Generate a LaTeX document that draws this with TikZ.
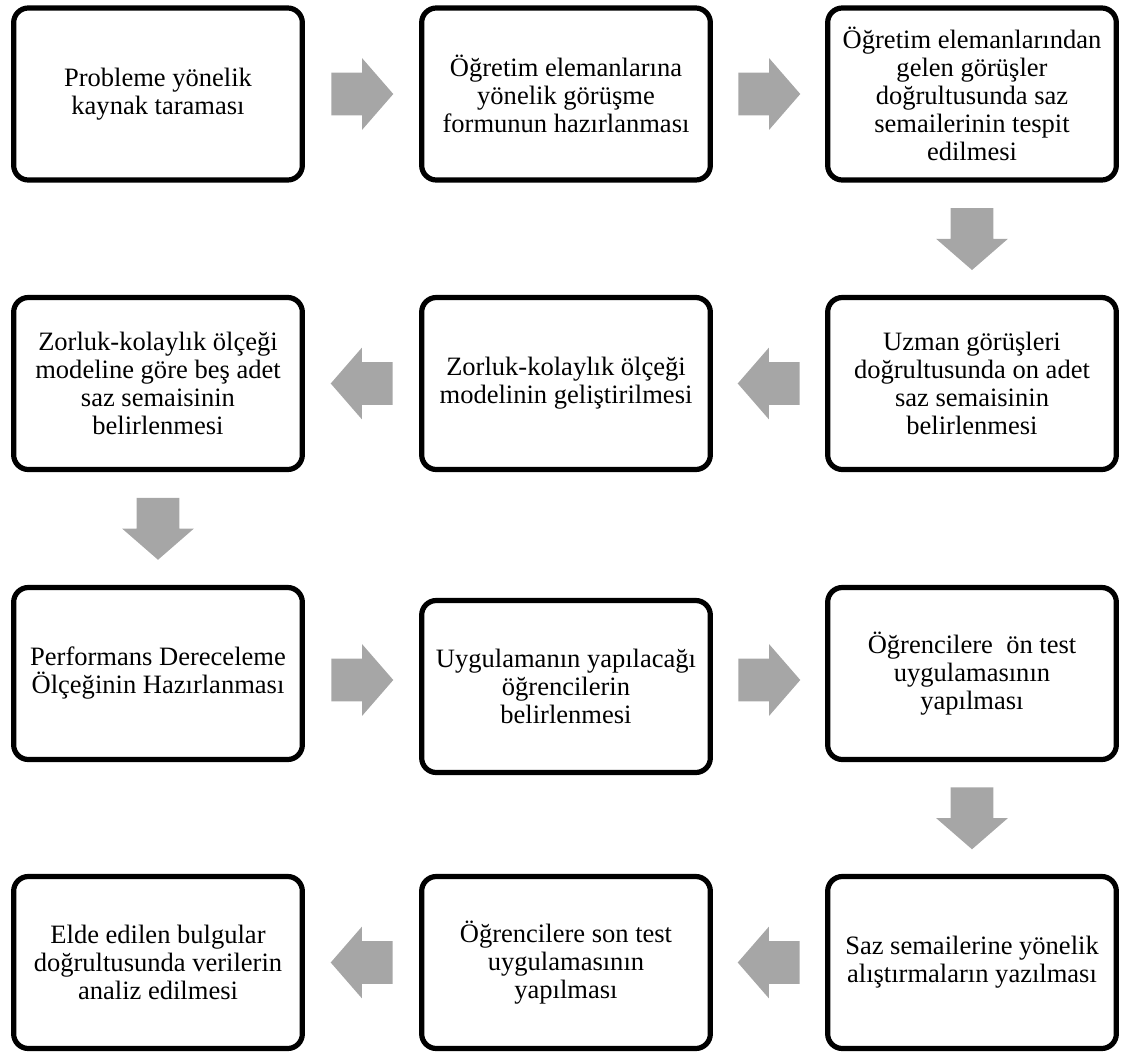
\documentclass[tikz,border=0pt]{standalone}
\usepackage{fontspec}
\setmainfont{Liberation Serif}
\usetikzlibrary{shapes.arrows,calc}
\definecolor{stepArrowColour}{RGB}{166,166,166}
\tikzset{
	stepbox/.style={draw=black, line width=3.9pt, rounded corners=11pt, fill=white,
		minimum width=216.5pt, minimum height=129pt, align=center, inner sep=2pt,
		font=\fontsize{19.9pt}{21pt}\selectfont},
	blockarrow/.style={single arrow, fill=stepArrowColour, draw=none, anchor=tail,
		inner xsep=0pt, inner ysep=15.75pt,
		minimum height=46.5pt, minimum width=53.3pt, single arrow head extend=10.9pt,
		single arrow tip angle=98},
	toright/.style={blockarrow},
	toleft/.style={blockarrow, rotate=180},
	todown/.style={blockarrow, rotate=-90}
}

\begin{document}
\begin{tikzpicture}[x=0.75pt, y=-0.75pt]
		\useasboundingbox (0,0) rectangle (1124,1053);

		% first row
		\node[stepbox] (s1) at (158,94) {Probleme yönelik\\kaynak taraması};
		\node[stepbox] (s2) at (566,94) {Öğretim elemanlarına\\yönelik görüşme\\formunun hazırlanması};
		\node[stepbox] (s3) at (972,94) {Öğretim elemanlarından\\gelen görüşler\\doğrultusunda saz\\semailerinin tespit\\edilmesi};

		% second row
		\node[stepbox] (s4) at (972,383.5) {Uzman görüşleri\\doğrultusunda on adet\\saz semaisinin\\belirlenmesi};
		\node[stepbox] (s5) at (566,383.5) {Zorluk-kolaylık ölçeği\\modelinin geliştirilmesi};
		\node[stepbox] (s6) at (158,383.5) {Zorluk-kolaylık ölçeği\\modeline göre beş adet\\saz semaisinin\\belirlenmesi};

		% third row
		\node[stepbox] (s7) at (158,673.5) {Performans Dereceleme\\Ölçeğinin Hazırlanması};
		\node[stepbox] (s8) at (566,686.5) {Uygulamanın yapılacağı\\öğrencilerin\\belirlenmesi};
		\node[stepbox] (s9) at (972,673.5) {Öğrencilere~ ön test\\uygulamasının\\yapılması};

		% fourth row
		\node[stepbox] (s10) at (972,962.5) {Saz semailerine yönelik\\alıştırmaların yazılması};
		\node[stepbox] (s11) at (566,962.5) {Öğrencilere son test\\uygulamasının\\yapılması};
		\node[stepbox] (s12) at (158,962.5) {Elde edilen bulgular\\doğrultusunda verilerin\\analiz edilmesi};

		% the arrows between the steps (tail placed half an arrow before the gap's middle)
		\node[toright] (a1) at ($(s1.east)!0.5!(s2.west)+(-31,0)$) {};
		\node[toright] (a2) at ($(s2.east)!0.5!(s3.west)+(-31,0)$) {};
		\node[todown] (a3) at ($(s3.south)!0.5!(s4.north)+(0,-31)$) {};
		\node[toleft] (a4) at ($(s4.west)!0.5!(s5.east)+(31,0)$) {};
		\node[toleft] (a5) at ($(s5.west)!0.5!(s6.east)+(31,0)$) {};
		\node[todown] (a6) at ($(s6.south)!0.5!(s7.north)+(0,-31)$) {};
		\node[toright] (a7) at ($(s7.east)!0.5!(s8.west)+(-31,0)$) {};
		\node[toright] (a8) at ($(s8.east)!0.5!(s9.west)+(-31,0)$) {};
		\node[todown] (a9) at ($(s9.south)!0.5!(s10.north)+(0,-31)$) {};
		\node[toleft] (a10) at ($(s10.west)!0.5!(s11.east)+(31,0)$) {};
		\node[toleft] (a11) at ($(s11.west)!0.5!(s12.east)+(31,0)$) {};
	\end{tikzpicture}
\end{document}
